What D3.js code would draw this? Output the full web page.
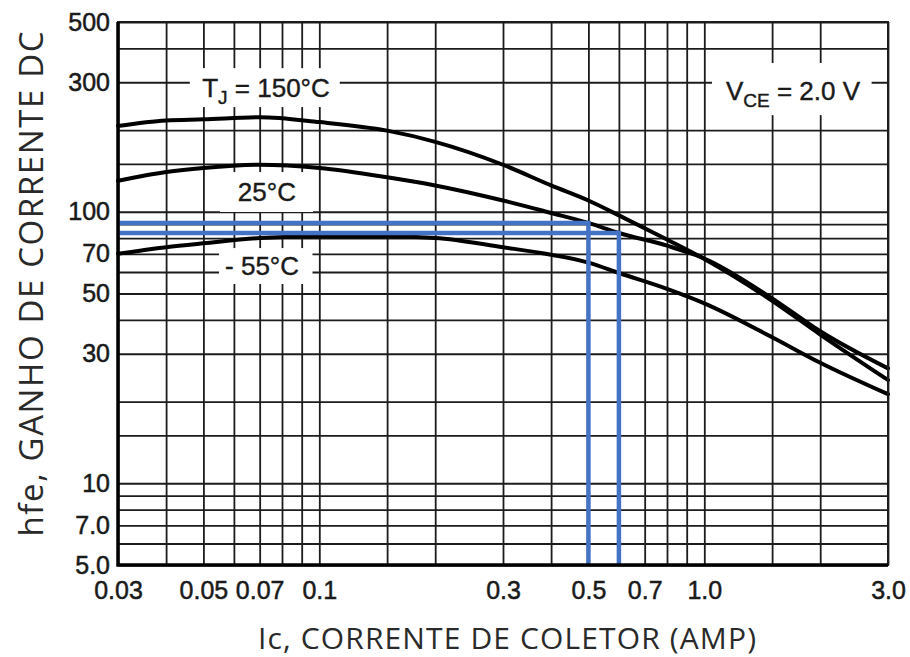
<!DOCTYPE html>
<html>
<head>
<meta charset="utf-8">
<script src="https://cdn.jsdelivr.net/npm/d3@7"></script>
<style>
  body { margin: 0; background: #fff; }
  svg { display: block; }
</style>
</head>
<body>
<svg id="chart" width="910" height="657"></svg>
<script>
// collector current (A) where curves were read
const currentA   = [0.03, 0.04, 0.05, 0.07, 0.1, 0.15, 0.2, 0.3, 0.4, 0.5, 0.6, 0.8, 1.0, 1.5, 2.0, 3.0];
// DC gain
const hfe150     = [207, 217, 219, 223, 214, 199, 181, 149, 125, 110, 97, 79, 67, 47, 35.3, 24];
const hfe25      = [130, 140, 145, 149, 145, 134, 125, 110, 99, 91, 83.5, 75, 67.3, 48, 36.3, 26.5];
const hfeMinus55 = [70, 74, 76.5, 80, 81, 81, 80, 74, 69.5, 65, 59.5, 52, 46, 34.5, 27.8, 21.3];

const gridX = [0.03, 0.04, 0.05, 0.06, 0.07, 0.08, 0.09, 0.1, 0.15, 0.2, 0.3, 0.4, 0.5, 0.6, 0.7, 0.8, 0.9, 1.0, 1.5, 2.0, 3.0];
const gridY = [5, 6, 7, 8, 9, 10, 15, 20, 30, 40, 50, 60, 70, 80, 90, 100, 150, 200, 300, 400, 500];

const tickX = [0.03, 0.05, 0.07, 0.1, 0.3, 0.5, 0.7, 1.0, 3.0];
const tickXLabels = ['0.03', '0.05', '0.07', '0.1', '0.3', '0.5', '0.7', '1.0', '3.0'];
const tickY = [500, 300, 100, 70, 50, 30, 10, 7, 5];
const tickYLabels = ['500', '300', '100', '70', '50', '30', '10', '7.0', '5.0'];

// blue reading lines (Ic, hfe on the 25°C curve)
const markIc  = [0.5, 0.6];
const markHfe = [91, 83.5];

const margin = {top: 22, right: 22, bottom: 92, left: 118};
const width = 910 - margin.left - margin.right;
const height = 657 - margin.top - margin.bottom;

const svg = d3.select('#chart');
const g = svg.append('g').attr('transform', `translate(${margin.left},${margin.top})`);

const x = d3.scaleLog().domain([0.03, 3.0]).range([0, width]);
const y = d3.scaleLog().domain([5, 500]).range([height, 0]);

// grid
const gx = g.append('g')
    .attr('transform', `translate(0,${height})`)
    .call(d3.axisBottom(x).tickValues(gridX).tickSize(-height).tickFormat(''));
const gy = g.append('g')
    .call(d3.axisLeft(y).tickValues(gridY).tickSize(-width).tickFormat(''));
[gx, gy].forEach(function(a) {
    a.select('.domain').remove();
    a.selectAll('line').attr('stroke', '#1c1c1c').attr('stroke-width', 1.8);
});

// white boxes behind the labels break the grid
function labelBox(x0, x1, yTop, yBottom) {
    g.append('rect')
        .attr('x', x(x0)).attr('y', y(yTop))
        .attr('width', x(x1) - x(x0))
        .attr('height', y(yBottom) - y(yTop))
        .attr('fill', 'white');
}
labelBox(0.0461, 0.113, 338, 243);
labelBox(0.0552, 0.0963, 140, 99.8);
labelBox(0.0549, 0.096, 73.5, 54.2);
labelBox(1.047, 2.72, 353, 227);

const labelFont = '"Liberation Sans", Arial, sans-serif';

function addLabel(cx, cy, parts) {
    const t = g.append('text')
        .attr('x', x(cx)).attr('y', y(cy))
        .attr('text-anchor', 'middle')
        .attr('font-family', labelFont)
        .attr('font-size', 26)
        .attr('fill', '#1a1a1a')
        .attr('stroke', '#1a1a1a')
        .attr('stroke-width', 0.4);
    parts.forEach(function(p) {
        const s = t.append('tspan').text(p.t);
        if (p.sub) s.attr('font-size', 19).attr('dy', 7);
        if (p.back) s.attr('dy', -7);
    });
}
addLabel(0.0727, 265, [{t: 'T'}, {t: 'J', sub: true}, {t: ' = 150°C', back: true}]);
addLabel(0.0731, 109.6, [{t: '25°C'}]);
addLabel(0.071, 58.5, [{t: '- 55°C'}]);
addLabel(1.70, 258, [{t: 'V'}, {t: 'CE', sub: true}, {t: ' = 2.0 V', back: true}]);

// curves
const line = d3.line()
    .x(function(d) { return x(d[0]); })
    .y(function(d) { return y(d[1]); })
    .curve(d3.curveMonotoneX);

[hfe150, hfe25, hfeMinus55].forEach(function(series) {
    g.append('path')
        .datum(currentA.map(function(c, i) { return [c, series[i]]; }))
        .attr('d', line)
        .attr('fill', 'none')
        .attr('stroke', '#000')
        .attr('stroke-width', 4)
        .attr('stroke-linecap', 'round');
});

// blue reading lines
for (var i = 0; i < markIc.length; i++) {
    g.append('path')
        .attr('d', d3.line()([[0, y(markHfe[i])], [x(markIc[i]), y(markHfe[i])], [x(markIc[i]), height]]))
        .attr('fill', 'none')
        .attr('stroke', '#4472c4')
        .attr('stroke-width', 4.5);
}

// frame
g.append('rect')
    .attr('width', width).attr('height', height)
    .attr('fill', 'none').attr('stroke', '#1c1c1c').attr('stroke-width', 2);
g.append('path')
    .attr('d', `M0,0V${height}H${width}`)
    .attr('fill', 'none').attr('stroke', '#000').attr('stroke-width', 3.5);

// tick labels
const ax = g.append('g')
    .attr('transform', `translate(0,${height})`)
    .call(d3.axisBottom(x).tickValues(tickX).tickSize(0).tickPadding(16)
        .tickFormat(function(d, i) { return tickXLabels[i]; }));
const ay = g.append('g')
    .call(d3.axisLeft(y).tickValues(tickY).tickSize(0).tickPadding(8)
        .tickFormat(function(d, i) { return tickYLabels[i]; }));
[ax, ay].forEach(function(a) {
    a.select('.domain').remove();
    a.selectAll('text')
        .attr('font-family', labelFont)
        .attr('font-size', 25)
        .attr('fill', '#1a1a1a')
        .attr('stroke', '#1a1a1a')
        .attr('stroke-width', 0.5);
});

// axis titles
svg.append('text')
    .attr('x', 507).attr('y', 649)
    .attr('text-anchor', 'middle')
    .attr('font-family', '"Open Sans", "Noto Sans", sans-serif')
    .attr('font-size', 30)
    .attr('fill', '#2a2a2a')
    .attr('textLength', 498)
    .attr('lengthAdjust', 'spacing')
    .text('Ic, CORRENTE DE COLETOR (AMP)');

svg.append('text')
    .attr('transform', 'translate(43,284) rotate(-90)')
    .attr('text-anchor', 'middle')
    .attr('font-family', '"Open Sans", "Noto Sans", sans-serif')
    .attr('font-size', 33)
    .attr('fill', '#2a2a2a')
    .attr('textLength', 505)
    .attr('lengthAdjust', 'spacing')
    .text('hfe, GANHO DE CORRENTE DC');
</script>
</body>
</html>
